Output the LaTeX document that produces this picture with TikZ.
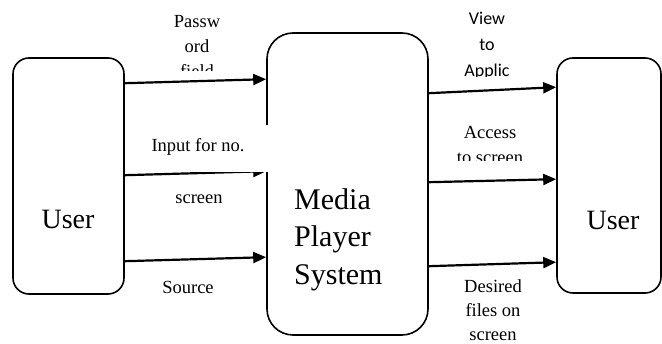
\documentclass[tikz,border=0pt]{standalone}
\usepackage{fontspec}
\setmainfont{Liberation Serif}
\newfontfamily\calibri{Carlito}
\usetikzlibrary{arrows.meta}
\begin{document}
\begin{tikzpicture}[x=1pt,y=-1pt,
  box/.style={draw, line width=1.6pt, rounded corners=16pt, inner sep=0pt},
  flow/.style={line width=2.2pt, -{Triangle[length=13pt,width=11pt]}},
  lbl/.style={font=\fontsize{18.5}{25}\selectfont, align=center, inner sep=0pt},
  big/.style={font=\fontsize{28}{34}\selectfont, inner sep=0pt},
]
\useasboundingbox (0,0) rectangle (662,344);
% boxes
\node[box, minimum width=111pt, minimum height=236pt] (uL) at (68.5,176) {};
\node[box, rounded corners=26pt, minimum width=161pt, minimum height=302pt] (M) at (347.5,184) {};
\node[box, minimum width=104pt, minimum height=235pt] (uR) at (609,175.5) {};
% box texts
\node[big, anchor=base] (tL) at (68,229) {User};
\node[big, anchor=base] (tR) at (613,230) {User};
\node[font=\fontsize{30}{37.5}\selectfont, align=left, anchor=north west, inner sep=0pt] (tM) at (294,188) {Media\\Player\\System};
% flows in
\draw[flow] ([yshift=-26pt]uL.north east) -- ([yshift=-47pt]M.north west);
\draw[flow] ([yshift=-118pt]uL.north east) -- ([yshift=-139pt]M.north west);
\draw[flow] ([yshift=-204pt]uL.north east) -- ([yshift=-225pt]M.north west);
% flows out
\draw[flow] ([yshift=-61pt]M.north east) -- ([yshift=-30pt]uR.north west);
\draw[flow] ([yshift=-150pt]M.north east) -- ([yshift=-122pt]uR.north west);
\draw[flow] ([yshift=-234pt]M.north east) -- ([yshift=-205pt]uR.north west);
% labels
\begin{scope}
\clip (140,0) rectangle (262,71);
\node[lbl, anchor=north] (pw) at (197,15) {Passw\\ord\\field};
\end{scope}
\fill[white] (145,125) rectangle (269,172);
\node[lbl, anchor=base] (inp) at (198,152) {Input for no.};
\node[lbl, anchor=base] (scr) at (199,204) {screen};
\node[lbl, anchor=base] (src) at (188,294) {Source};
\begin{scope}
\clip (440,0) rectangle (545,76.5);
\node[lbl, font=\calibri\fontsize{18}{26}\selectfont, anchor=north] (view) at (487,12) {View\\to\\Applic};
\end{scope}
\begin{scope}
\clip (440,100) rectangle (545,161);
\node[lbl, anchor=north] (acc) at (490,126) {Access\\to screen};
\end{scope}
\node[lbl, font=\fontsize{18.5}{24}\selectfont, anchor=north] (des) at (493,279) {Desired\\files on\\screen};
\end{tikzpicture}
\end{document}
